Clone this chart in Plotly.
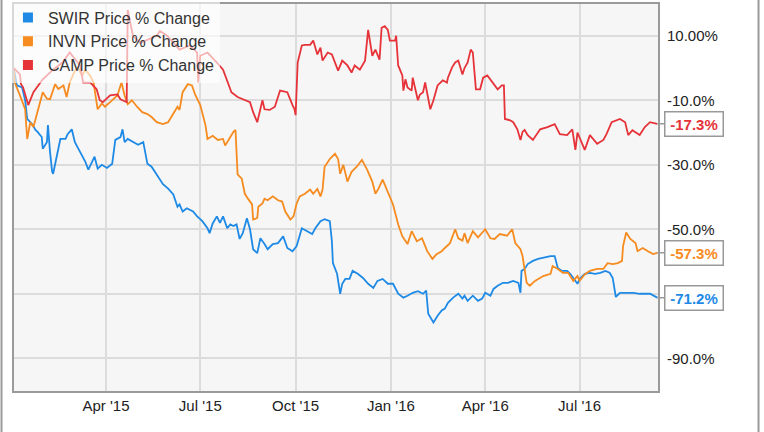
import plotly.graph_objects as go
import pandas as pd

# ---------------- data (days since 2015-01-01, % price change) ----------------
start_date = "2015-01-01"

swir_day = [1,4,9,12,14,17,19,22,24,28,
            29,33,34,36,38,39,43,46,51,53,
            57,60,65,70,73,77,79,82,86,91,
            96,99,104,106,108,111,116,121,126,130,
            134,139,145,150,155,159,161,164,168,174,
            178,183,188,190,193,197,200,203,207,210,
            213,216,219,222,226,229,232,236,239,243,
            246,251,256,261,265,270,274,279,284,289,
            292,297,301,306,308,309,313,316,318,321,
            325,328,333,338,343,348,352,357,362,367,
            372,377,381,386,391,396,399,401,406,410,
            414,417,420,425,430,434,436,439,444,449,
            453,456,461,464,468,473,478,483,488,490,
            491,494,497,502,507,512,519,523,526,530,
            535,538,541,545,547,552,557,562,567,572,
            576,579,582,586,593,599,605,610,615,622]
swir_pct = [0,-5.4,-6,-10,-15.8,-16.8,-17.5,-19.2,-19.8,-21.4,
            -25,-23,-17.7,-26,-32,-32.8,-26,-22,-22,-20.5,
            -19,-23,-26,-29,-31.5,-28.5,-27.5,-31.2,-30,-31,
            -29.7,-22.3,-21.4,-19,-23,-22,-23,-23.8,-23,-29.7,
            -30.6,-33,-36,-37.4,-39.2,-43,-42.3,-44.5,-43.5,-44.5,
            -46,-47.5,-49.7,-51.2,-48.2,-46,-48,-46,-49.7,-48.5,
            -49,-48.5,-53,-51.2,-46.6,-50,-56.2,-57.4,-52.8,-54.6,
            -56.2,-54.6,-54.3,-52.2,-55.8,-56.8,-55.2,-49.7,-50.5,-51.5,
            -49.7,-47.5,-46.9,-47.5,-53.7,-60.5,-63.8,-70,-66.9,-65.4,
            -65.4,-62.9,-63.8,-65.1,-66.9,-68.2,-66,-65.4,-66.9,-66.9,
            -70,-71.2,-70.6,-69.7,-69.2,-70,-69,-76.2,-78.9,-76.8,
            -75.2,-74.6,-72.8,-71.2,-70,-71.5,-70.6,-72.2,-70.6,-72.2,
            -71.5,-69.7,-70.6,-68.5,-67.5,-66.6,-66.6,-66,-66.6,-69.7,
            -62.9,-62.3,-60.8,-59.8,-59.2,-58.9,-58.3,-58.3,-62,-62.9,
            -62.9,-63.8,-65,-66.9,-65.4,-63.8,-63.5,-63.8,-63.5,-62.9,
            -63.5,-65.1,-71,-69.7,-69.7,-69.7,-70,-70,-70,-71.2]

invn_day = [1,2,7,12,14,17,20,22,26,29,
            33,36,41,44,49,52,55,60,63,67,
            70,75,78,82,86,89,94,101,105,108,
            111,115,120,125,130,134,139,145,150,155,
            159,161,164,169,173,176,181,186,188,193,
            198,203,205,208,213,215,216,217,221,224,
            227,231,232,236,237,241,243,246,251,256,
            260,263,268,271,274,277,282,287,290,294,
            297,299,301,306,311,314,316,319,323,327,
            332,337,342,347,350,353,357,362,367,372,
            376,381,385,390,395,400,405,409,414,417,
            422,427,430,434,436,439,444,449,456,461,
            465,470,477,482,485,490,492,496,499,504,
            512,519,521,526,531,536,541,545,547,552,
            557,564,570,574,579,584,588,589,592,596,
            601,603,608,613,618,622]
invn_pct = [0,-4.5,-8.5,-12.8,-22,-16.8,-18.3,-15.8,-11.5,-7.5,
            -9.5,-9.7,-5,-6.5,-5.4,-9,-4.5,-0.8,0.2,-2.5,
            -0.5,-2.5,-4.5,-12.8,-11,-12,-10.6,-8.5,-4.5,-8.5,
            -11.2,-10,-12,-13.7,-14.3,-15.2,-16.8,-17.4,-16.8,-14.3,
            -12,-13,-7.5,-5,-5.4,-8.2,-11.5,-17.7,-22,-21,
            -22.3,-22,-24,-22.5,-19.8,-19.2,-26,-33,-34.3,-39,
            -40.5,-42.3,-47,-46.5,-43,-42,-40.5,-41,-39.8,-41,
            -41.4,-44.5,-47,-46,-42,-39.8,-39,-37.7,-39,-37.5,
            -39.8,-37.7,-30.6,-28.2,-26.6,-28.2,-32.8,-30,-35.2,-32.2,
            -30.6,-28.5,-31.5,-35.2,-39,-37.4,-34.6,-38.3,-42.3,-48.5,
            -52.2,-54.6,-50.6,-53.7,-52.8,-56.8,-59.2,-57.7,-56.8,-55.8,
            -54.3,-50,-52.8,-53.5,-51.2,-54.3,-50.6,-52.5,-50,-52.8,
            -53,-51.5,-52,-50,-54.3,-56.2,-58.3,-66.6,-67.5,-66,
            -64.5,-63.8,-61.4,-62.3,-63.5,-63.5,-66,-64.5,-66,-64,
            -62.9,-62.3,-62.3,-60.5,-60.8,-60.5,-59.8,-55.2,-51,-53,
            -54.3,-56.8,-55.8,-56.8,-57.7,-57.3]

camp_day = [1,7,8,10,15,20,29,39,48,55,
            65,68,75,81,84,87,94,101,104,110,
            111,116,123,130,139,142,149,161,171,178,
            179,181,188,197,203,210,211,217,224,229,
            232,236,241,243,248,253,258,265,270,272,
            273,275,279,282,287,290,294,297,299,304,
            308,314,318,323,327,330,335,340,343,347,
            350,353,354,356,359,362,364,369,370,372,
            376,377,379,381,385,386,389,391,393,396,
            398,401,403,406,410,415,419,420,424,427,
            430,434,436,439,442,444,447,451,454,458,
            463,465,468,472,474,475,480,483,487,490,
            492,494,497,502,509,516,523,528,535,540,
            543,545,552,557,564,570,573,578,586,591,
            594,598,605,610,615,622]
camp_pct = [0,-2,-5,-6,-11.5,-7.5,-3.5,-0.5,1.7,4.8,
            0.8,-4.5,-4.5,-6.6,-10,-10.6,-8.5,-8.2,-9.7,-10.6,
            18,10,7.8,8.8,10,11.5,10,5.7,7,4.8,
            -4.5,3.8,4.8,1.7,-0.5,-6.6,-7.5,-9,-10,-10.6,
            -13.7,-16.8,-10,-12.8,-13,-12,-7,-7.5,-11.5,-12.8,
            -14.6,1.7,7,7.2,7.2,8.5,4.2,6.3,2.3,4.8,
            4.2,-0.8,2.3,0.8,-1.4,0.8,-0.5,2.3,11.8,3.8,
            5.7,3.2,2.6,12.5,13,11.8,8.5,8.5,10,0.8,
            -2.3,-7,-3.5,-6,-7,-3,-7,-10,-8.2,-7.5,
            -4.5,-9,-12.8,-10,-5.4,-3.8,-4.5,-3,0.2,1.7,
            2.3,-2,0,1.7,5.7,4.8,-6.6,-6.6,-3,-2.3,
            -4.5,-5.4,-6.6,-5.4,-5.4,-15.8,-16.2,-16.8,-19,-22.3,
            -19.8,-19.2,-20.8,-22.3,-19,-18.3,-17.4,-20.5,-20.8,-19,
            -25.4,-20,-25.4,-20.8,-23.5,-22.3,-20.5,-16.8,-15.8,-16.8,
            -20.8,-19.3,-20.8,-18.3,-16.8,-17.3]

series_names = ["SWIR Price % Change", "INVN Price % Change", "CAMP Price % Change"]
series_colors = ["#1e8ae6", "#f68b1f", "#e63339"]

x_tick_dates = ["2015-04-01", "2015-07-01", "2015-10-01", "2016-01-01", "2016-04-01", "2016-07-01"]
x_tick_labels = ["Apr '15", "Jul '15", "Oct '15", "Jan '16", "Apr '16", "Jul '16"]
y_tick_vals = [10, -10, -30, -50, -70, -90]
y_tick_labels = ["10.00%", "-10.0%", "-30.0%", "-50.0%", "", "-90.0%"]

x_range = ["2015-01-02 06:00", "2016-09-14 17:00"]
y_range = [-100.15, 19.85]

# ---------------- figure ----------------
assert len(swir_day) == len(swir_pct)
assert len(invn_day) == len(invn_pct)
assert len(camp_day) == len(camp_pct)

t0 = pd.Timestamp(start_date)


def to_dates(days):
    return [t0 + pd.Timedelta(days=d) for d in days]


all_series = [(swir_day, swir_pct), (invn_day, invn_pct), (camp_day, camp_pct)]

fig = go.Figure()
for (days, vals), name, color in zip(all_series, series_names, series_colors):
    fig.add_trace(go.Scatter(
        x=to_dates(days), y=vals, mode="lines", name=name,
        line=dict(color=color, width=1.8), showlegend=False,
        hoverinfo="skip",
    ))

for name, color in zip(series_names, series_colors):
    fig.add_trace(go.Scatter(
        x=[None], y=[None], mode="markers", name=name,
        marker=dict(symbol="square", size=10, color=color),
    ))

annotations = []
for (days, vals), color in zip(all_series, series_colors):
    last_x = to_dates(days)[-1]
    last_v = vals[-1]
    annotations.append(dict(
        x=last_x, y=last_v, xref="x", yref="y",
        text="<b>%.1f%%</b>" % last_v,
        font=dict(family="Liberation Sans, Arial, sans-serif", size=15, color=color),
        showarrow=True, arrowhead=0, arrowwidth=1.5, arrowcolor="#999999",
        ax=7, ay=0, xanchor="left", yanchor="middle",
        width=51, height=17, align="center",
        bordercolor="#999999", borderwidth=1.5, borderpad=3,
        bgcolor="#ffffff",
    ))

fig.update_layout(
    width=764, height=432,
    margin=dict(l=14, r=106, t=1, b=41),
    paper_bgcolor="#ffffff",
    plot_bgcolor="#f6f6f6",
    font=dict(family="Liberation Sans, Arial, sans-serif", size=15, color="#222222"),
    showlegend=True,
    legend=dict(
        x=-0.0094, y=1.009, xanchor="left", yanchor="top",
        bgcolor="rgba(255,255,255,0.62)", borderwidth=0,
        font=dict(size=16, color="#333333"),
        tracegroupgap=0,
    ),
    xaxis=dict(
        type="date", range=x_range,
        tickvals=x_tick_dates, ticktext=x_tick_labels,
        showgrid=True, gridcolor="#dcdcdc", gridwidth=1.5,
        showline=True, linecolor="#9a9a9a", linewidth=2, mirror=True,
        ticks="", zeroline=False,
        tickfont=dict(size=15, color="#222222"),
    ),
    yaxis=dict(
        side="right", range=y_range,
        tickvals=y_tick_vals, ticktext=y_tick_labels,
        showgrid=True, gridcolor="#dcdcdc", gridwidth=1.5,
        showline=True, linecolor="#9a9a9a", linewidth=2, mirror=True,
        ticks="", zeroline=False, ticklabelstandoff=4,
        tickfont=dict(size=15, color="#222222"),
    ),
    annotations=annotations,
    shapes=[
        dict(type="line", xref="paper", yref="paper", x0=-0.0194, x1=-0.0194, y0=-0.2, y1=1.2,
             line=dict(color="#9a9a9a", width=2)),
        dict(type="line", xref="paper", yref="paper", x0=1.1561, x1=1.1561, y0=-0.2, y1=1.2,
             line=dict(color="#9a9a9a", width=2)),
    ],
)

fig.write_html("out.html", config={"displayModeBar": False},
               post_script="document.body.style.margin='0';")
